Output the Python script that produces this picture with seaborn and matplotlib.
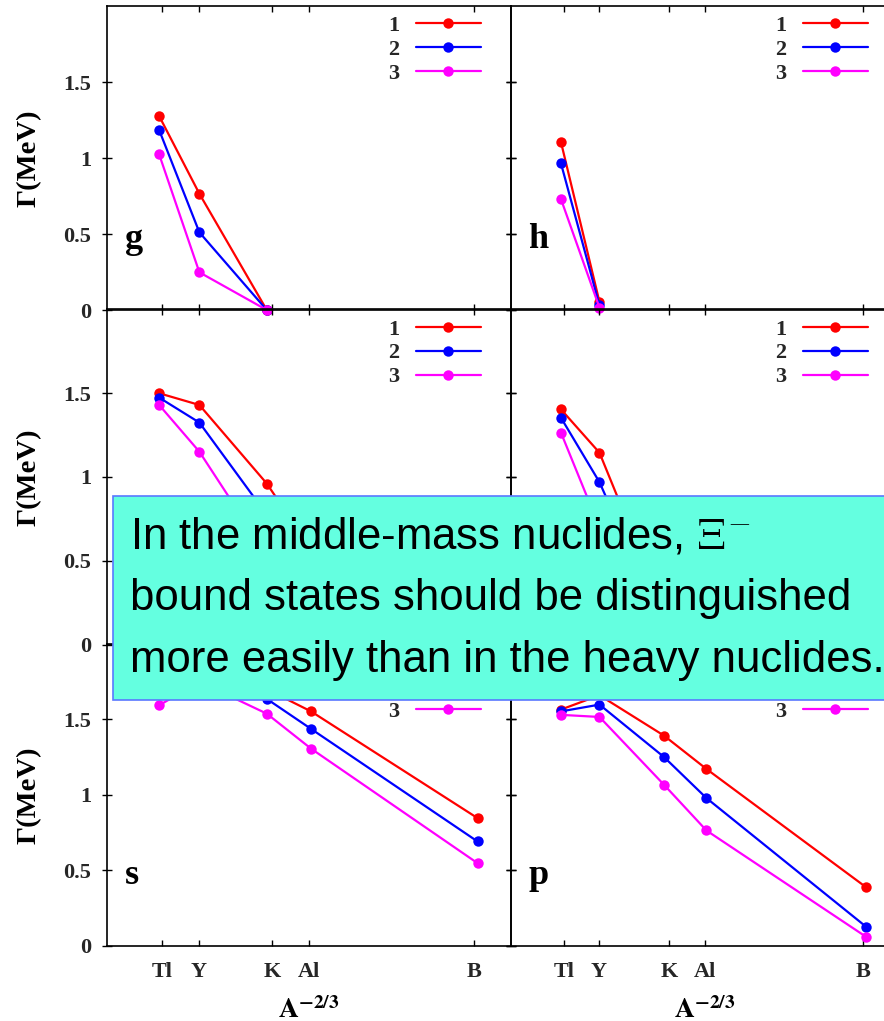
import matplotlib
matplotlib.use("Agg")
import matplotlib.pyplot as plt
from matplotlib.patches import Rectangle
from matplotlib.font_manager import FontProperties
import pandas as pd
import seaborn as sns

# Nuclides on the A^(-2/3) axis: point positions and labelled tick positions
nuclides = ["Tl", "Y", "K", "Al", "B"]
nuclide_x = [0.0284, 0.0503, 0.0870, 0.1111, 0.2018]
tick_pos = [0.03, 0.05, 0.09, 0.11, 0.20]

ytick_pos = [0, 0.5, 1, 1.5]
ytick_labels = ["0", "0.5", "1", "1.5"]

curves = ["1", "2", "3"]
curve_colors = ["#ff0000", "#0000ff", "#ff00ff"]

# Widths Gamma (MeV) of the Xi- bound states, one list per curve
g_1 = [1.276, 0.765, 0.0]
g_2 = [1.184, 0.511, 0.0]
g_3 = [1.024, 0.248, 0.0]

h_1 = [1.105, 0.053]
h_2 = [0.965, 0.030]
h_3 = [0.730, 0.015]

d_1 = [1.500, 1.430, 0.961, 0.570, 0.0]
d_2 = [1.474, 1.325, 0.775, 0.400, 0.0]
d_3 = [1.430, 1.151, 0.535, 0.250, 0.0]

f_1 = [1.404, 1.145, 0.200, 0.0]
f_2 = [1.354, 0.969, 0.100, 0.0]
f_3 = [1.265, 0.700, 0.020, 0.0]

s_1 = [1.700, 1.900, 1.700, 1.553, 0.845]
s_2 = [1.670, 1.830, 1.636, 1.437, 0.690]
s_3 = [1.593, 1.750, 1.538, 1.306, 0.546]

p_1 = [1.565, 1.660, 1.392, 1.171, 0.387]
p_2 = [1.553, 1.598, 1.250, 0.978, 0.125]
p_3 = [1.530, 1.516, 1.066, 0.763, 0.058]

panels = [
    ("g", [g_1, g_2, g_3]),
    ("h", [h_1, h_2, h_3]),
    ("d", [d_1, d_2, d_3]),
    ("f", [f_1, f_2, f_3]),
    ("s", [s_1, s_2, s_3]),
    ("p", [p_1, p_2, p_3]),
]

sns.set_theme(style="ticks")
plt.rcParams["font.family"] = ["Liberation Serif", "DejaVu Serif"]
plt.rcParams["axes.linewidth"] = 1.2
plt.rcParams["axes.edgecolor"] = "black"

W, H = 884, 1021
fig = plt.figure(figsize=(W / 100, H / 100), dpi=100)

# pixel frames of the 3x2 grid (top, bottom) and (left, width)
rows_px = [(6, 310), (309.5, 644.5), (644, 945.5)]
cols_px = [(107, 404), (511, 387)]

bold_serif = dict(family="Liberation Serif", weight="bold")
legend_font = FontProperties(family="Liberation Serif", weight="bold", size=16)

for k, (letter, series) in enumerate(panels):
    r, c = divmod(k, 2)
    ytop, ybot = rows_px[r]
    x0, wpx = cols_px[c]
    hpx = ybot - ytop
    ax = fig.add_axes([x0 / W, 1 - ybot / H, wpx / W, hpx / H])
    ax.set_facecolor("none")

    recs = []
    for name, vals in zip(curves, series):
        for xv, v in zip(nuclide_x, vals):
            recs.append({"x": xv, "gamma": v, "curve": name})
    df = pd.DataFrame(recs)

    sns.lineplot(data=df, x="x", y="gamma", hue="curve", hue_order=curves,
                 palette=dict(zip(curves, curve_colors)), marker="o",
                 markersize=7.5, markeredgewidth=0, linewidth=1.6,
                 estimator=None, sort=False, legend=False, ax=ax)
    for ln in ax.get_lines():
        ln.set_clip_on(False)

    ax.set_xlim(0, 0.22)
    ax.set_ylim(0, 2.0)
    ax.set_xticks(tick_pos)
    ax.set_yticks(ytick_pos)
    ax.tick_params(axis="x", direction="in", top=True, bottom=True,
                   length=4.5, width=1.0, color="black", pad=12)
    ax.tick_params(axis="y", direction="inout", left=True, right=True,
                   length=7.5, width=1.0, color="black", pad=7.8)

    if r == 2:
        ax.set_xticklabels(nuclides, fontsize=16, **bold_serif)
        ax.set_xlabel(r"$\mathbf{A}^{\mathbf{-2/3}}$", fontsize=20,
                      math_fontfamily="stix", color="black")
        ax.xaxis.set_label_coords(0.5, -0.172)
    else:
        ax.set_xticklabels([])
        ax.set_xlabel("")

    if c == 0:
        ax.set_yticklabels(ytick_labels, fontsize=16, **bold_serif)
        ax.set_ylabel("Γ(MeV)", fontsize=20.5, color="black", **bold_serif)
        ax.yaxis.set_label_coords(-0.163, 0.5)
    else:
        ax.set_yticklabels([])
        ax.set_ylabel("")

    for sp in ax.spines.values():
        sp.set_visible(True)
        sp.set_linewidth(1.2)
        sp.set_color("black")

    # orbital letter in the lower-left corner (middle row lies under the call-out)
    if r != 1:
        ax.text(0.045, 0.205, letter, transform=ax.transAxes, fontsize=26,
                va="baseline", ha="left", color="black", **bold_serif)

    handles = ax.get_lines()[:3]
    ax.legend(handles, curves, loc="upper right",
              bbox_to_anchor=(1 - 30 / wpx, 1 - 9.5 / hpx),
              frameon=False, markerfirst=False, handlelength=2.93,
              handletextpad=0.75, labelspacing=0.15, borderpad=0,
              borderaxespad=0, prop=legend_font)

# call-out box laid over the middle of the grid
box = Rectangle((113 / W, 1 - 700 / H), (905 - 113) / W, (700 - 496) / H,
                transform=fig.transFigure, facecolor="#64ffe0",
                edgecolor="#5a78ff", linewidth=1.2, zorder=10)
fig.add_artist(box)

box_lines = [
    r"In the middle-mass nuclides, $\Xi^{-}$",
    "bound states should be distinguished",
    "more easily than in the heavy nuclides.",
]
baselines_px = [548, 610, 672]
for txt, yb in zip(box_lines, baselines_px):
    fig.text(130 / W, 1 - yb / H, txt, fontsize=31.5, family="Liberation Sans",
             color="black", va="baseline", ha="left", math_fontfamily="cm",
             zorder=11)

fig.savefig("out.png", dpi=100)
